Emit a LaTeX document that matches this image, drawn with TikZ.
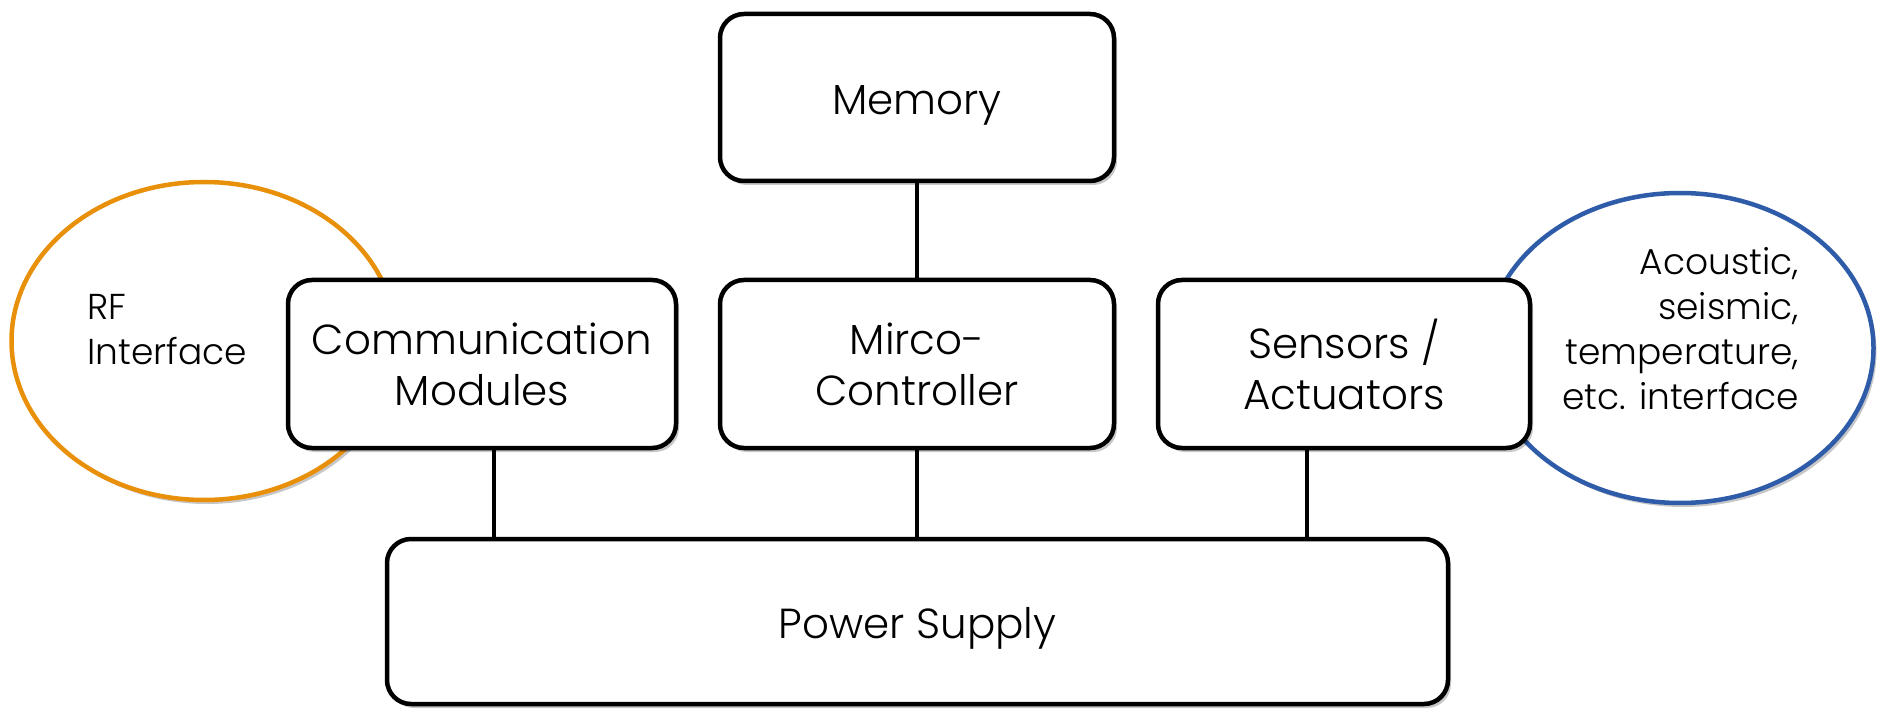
\documentclass[tikz,border=0pt]{standalone}
\usepackage{fontspec}
\setmainfont{Poppins Light}
\usetikzlibrary{shapes.geometric,shadows}
\definecolor{rforange}{HTML}{E8900A}
\definecolor{sensblue}{HTML}{2E5CA8}
\begin{document}
\begin{tikzpicture}[x=1pt,y=-1pt,
  shad/.style={drop shadow={shadow xshift=3pt,shadow yshift=-4pt,opacity=0.22,fill=black}},
  box/.style={draw=black,line width=4.5pt,rounded corners=24pt,fill=white,align=center,
    inner sep=0pt,font=\fontsize{42}{51}\selectfont,shad},
  bubble/.style={ellipse,line width=4.5pt,fill=white,inner sep=0pt,shad},
  small/.style={inner sep=0pt,font=\fontsize{36}{45}\selectfont},
  wire/.style={line width=4pt}]
\useasboundingbox (0,0) rectangle (1877,711);
% bubbles
\node[bubble,draw=rforange,minimum width=385pt,minimum height=318pt] (rf) at (204,341) {};
\node[bubble,draw=sensblue,minimum width=387pt,minimum height=310pt] (env) at (1680,348) {};
\node[small,align=left,anchor=west] (rftext) at (87,330) {RF\\Interface};
\node[small,align=right,anchor=east] (envtext) at (1799,329) {Acoustic,\\seismic,\\temperature,\\etc. interface};
% boxes
\node[box,minimum width=394pt,minimum height=167pt] (mem) at (917,97.5) {};
\node[box,minimum width=388pt,minimum height=168pt] (comm) at (482,364) {Communication\\Modules};
\node[box,minimum width=394pt,minimum height=168pt] (mcu) at (917,364) {Mirco-\\Controller};
\node[box,minimum width=372pt,minimum height=168pt] (sens) at (1344,364) {Sensors /\\Actuators};
\node[box,minimum width=1061pt,minimum height=165pt] (power) at (917.5,621.5) {};
\node[inner sep=0pt,font=\fontsize{42}{51}\selectfont] (memtext) at ([yshift=-8pt]mem.center) {Memory};
\node[inner sep=0pt,font=\fontsize{42}{51}\selectfont] (powertext) at ([yshift=-7pt]power.center) {Power Supply};
% wires
\draw[wire] (mem.south) -- (mcu.north);
\draw[wire] ([xshift=12pt]comm.south) -- ([xshift=12pt]comm.south |- power.north);
\draw[wire] (mcu.south) -- (mcu.south |- power.north);
\draw[wire] ([xshift=-37pt]sens.south) -- ([xshift=-37pt]sens.south |- power.north);
\end{tikzpicture}
\end{document}
